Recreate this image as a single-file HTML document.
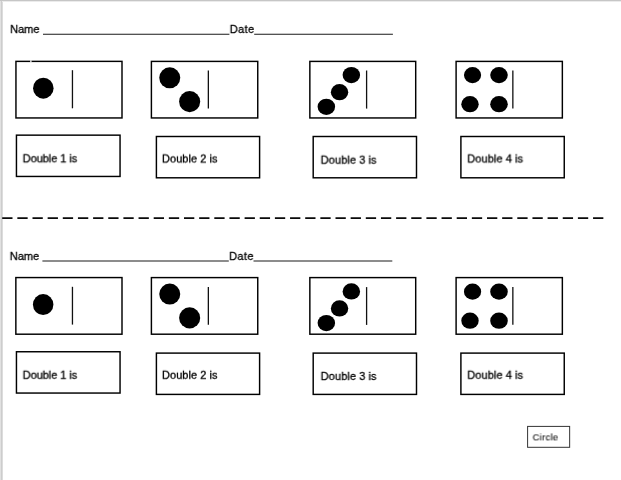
<!DOCTYPE html>
<html lang="en">
<head>
<meta charset="utf-8">
<title>Doubles worksheet</title>
<style>
  html, body { margin: 0; padding: 0; background: #ffffff; }
  body { width: 621px; height: 480px; position: relative; overflow: hidden;
         font-family: "Liberation Sans", sans-serif; color: #111; }
  .edge-l0 { position: absolute; left: 0; top: 0; width: 1px; height: 480px; background: #e1e1e1; }
  .edge-l1 { position: absolute; left: 1px; top: 0; width: 1px; height: 480px; background: #cdcdcd; }
  .edge-l2 { position: absolute; left: 2px; top: 0; width: 1px; height: 480px; background: #dcdcdc; }
  .edge-t0 { position: absolute; left: 0; top: 0; width: 621px; height: 1px; background: #c6c6c6; }
  .edge-t1 { position: absolute; left: 2px; top: 1px; width: 619px; height: 1px; background: #ebebeb; }
  svg.art { position: absolute; left: 0; top: 0; }
  .t { position: absolute; white-space: nowrap; font-size: 11px; line-height: 12px; letter-spacing: 0;
       will-change: transform; transform-origin: 0 0; -webkit-text-stroke: 0.3px #000; color: #000; }
  .c { font-size: 9.4px; line-height: 10px; -webkit-text-stroke: 0.08px #111; }
</style>
</head>
<body>
<div class="edge-l0"></div><div class="edge-l1"></div><div class="edge-l2"></div>
<div class="edge-t0"></div><div class="edge-t1"></div>

<svg class="art" width="621" height="480" viewBox="0 0 621 480">
  <!-- dashed cut line -->
  <line x1="2.2" y1="218.05" x2="604" y2="218.05" stroke="#0a0a0a" stroke-width="1.75" stroke-dasharray="10.3 4.85"/>

  <!-- name/date underlines -->
  <g stroke="#1a1a1a" stroke-width="1.15">
    <line x1="43" y1="34.2" x2="229.4" y2="34.2"/>
    <line x1="254.2" y1="34.2" x2="392.9" y2="34.2"/>
    <line x1="42.4" y1="261" x2="228.8" y2="261"/>
    <line x1="253.5" y1="261" x2="392.3" y2="261"/>
  </g>

  <!-- top half -->
  <g id="s1">
    <g fill="none" stroke="#000" stroke-width="1.45">
      <rect x="15.95" y="61.37" width="106.05" height="56.58"/>
      <rect x="151.4" y="61.4" width="106.35" height="56.55"/>
      <rect x="309.85" y="61.4" width="105.85" height="56.55"/>
      <rect x="456.1" y="61.4" width="106.25" height="56.55"/>
      <rect x="16.45" y="135.15" width="103.6" height="41.3"/>
      <rect x="156.4" y="136.5" width="103.2" height="41.3"/>
      <rect x="313.2" y="136.5" width="103.3" height="41.3"/>
      <rect x="460.9" y="136.5" width="103.35" height="41.3"/>
    </g>
    <rect x="30" y="60.3" width="1.7" height="2" fill="#fff" fill-opacity="0.75"/>
    <g stroke="#111" stroke-width="1.3">
      <line x1="72.45" y1="70.2" x2="72.45" y2="108.3"/>
      <line x1="208.35" y1="70.5" x2="208.35" y2="108.5"/>
      <line x1="366.6" y1="70.5" x2="366.6" y2="108.6"/>
      <line x1="512.85" y1="70.5" x2="512.85" y2="108.4"/>
    </g>
    <g fill="#000">
      <ellipse cx="43.3" cy="88.15" rx="10.25" ry="10.5"/>
      <circle cx="169.75" cy="77.8" r="10.5"/>
      <circle cx="189.65" cy="101.6" r="10.55"/>
      <ellipse cx="351.35" cy="75.1" rx="8.75" ry="8.15"/>
      <ellipse cx="339.55" cy="92.15" rx="8.7" ry="8.15"/>
      <ellipse cx="326.35" cy="106.8" rx="8.75" ry="8.15"/>
      <ellipse cx="472.55" cy="75.1" rx="8.6" ry="8.05"/>
      <ellipse cx="499.0" cy="75.1" rx="8.8" ry="8.05"/>
      <ellipse cx="470" cy="104.15" rx="8.7" ry="8.15"/>
      <ellipse cx="499" cy="104.15" rx="8.8" ry="8.15"/>
    </g>
  </g>

  <!-- bottom half -->
  <g id="s2">
    <g fill="none" stroke="#000" stroke-width="1.45">
      <rect x="15.85" y="277.57" width="106.15" height="56.63"/>
      <rect x="151.4" y="277.6" width="106.35" height="56.6"/>
      <rect x="309.85" y="277.6" width="105.85" height="56.6"/>
      <rect x="456.1" y="277.6" width="106.25" height="56.6"/>
      <rect x="16.45" y="351.75" width="103.6" height="41.3"/>
      <rect x="156.4" y="353.1" width="103.2" height="41.3"/>
      <rect x="313.2" y="353.1" width="103.3" height="41.3"/>
      <rect x="460.9" y="353.1" width="103.35" height="41.3"/>
    </g>
    <g stroke="#111" stroke-width="1.3">
      <line x1="72.45" y1="286.8" x2="72.45" y2="324.6"/>
      <line x1="208.35" y1="287.1" x2="208.35" y2="324.8"/>
      <line x1="366.6" y1="287.1" x2="366.6" y2="324.9"/>
      <line x1="512.85" y1="287.1" x2="512.85" y2="324.7"/>
    </g>
    <g fill="#000">
      <ellipse cx="43.15" cy="304.55" rx="10.25" ry="10.5"/>
      <circle cx="169.75" cy="294.1" r="10.5"/>
      <circle cx="189.65" cy="317.9" r="10.55"/>
      <ellipse cx="351.35" cy="291.4" rx="8.75" ry="8.15"/>
      <ellipse cx="339.55" cy="308.45" rx="8.7" ry="8.15"/>
      <ellipse cx="326.35" cy="323.1" rx="8.75" ry="8.15"/>
      <ellipse cx="472.55" cy="291.65" rx="8.6" ry="8.05"/>
      <ellipse cx="499.0" cy="291.65" rx="8.8" ry="8.05"/>
      <ellipse cx="470" cy="320.7" rx="8.7" ry="8.15"/>
      <ellipse cx="499" cy="320.7" rx="8.8" ry="8.15"/>
    </g>
  </g>

  <!-- circle word box -->
  <rect x="527.6" y="426.4" width="42.05" height="20.9" fill="none" stroke="#333" stroke-width="1"/>
</svg>

<!-- text -->
<div class="t" style="left:10px; top:23px; transform:translate(0.2px,0.0px) rotate(0.01deg);">Name</div>
<div class="t" style="left:229px; top:23px; letter-spacing:0.4px; transform:translate(0.8px,0.0px) rotate(0.01deg);">Date</div>
<div class="t" style="left:22px; top:152px; letter-spacing:-0.06px; transform:translate(0.7px,0.3px) rotate(0.01deg);">Double 1 is</div>
<div class="t" style="left:162px; top:152px; letter-spacing:0.05px; transform:translate(0.0px,0.5px) rotate(0.01deg);">Double 2 is</div>
<div class="t" style="left:320px; top:153px; letter-spacing:0.08px; transform:translate(0.7px,0.7px) rotate(0.01deg);">Double 3 is</div>
<div class="t" style="left:467px; top:152px; letter-spacing:0.08px; transform:translate(0.3px,0.5px) rotate(0.01deg);">Double 4 is</div>
<div class="t" style="left:9px; top:250px; transform:translate(0.8px,0.0px) rotate(0.01deg);">Name</div>
<div class="t" style="left:229px; top:250px; letter-spacing:0.4px; transform:translate(0.2px,0.0px) rotate(0.01deg);">Date</div>
<div class="t" style="left:22px; top:368px; letter-spacing:-0.06px; transform:translate(0.7px,0.8px) rotate(0.01deg);">Double 1 is</div>
<div class="t" style="left:162px; top:368px; letter-spacing:0.05px; transform:translate(0.0px,0.8px) rotate(0.01deg);">Double 2 is</div>
<div class="t" style="left:320px; top:370px; letter-spacing:0.08px; transform:translate(0.7px,0.0px) rotate(0.01deg);">Double 3 is</div>
<div class="t" style="left:467px; top:368px; letter-spacing:0.08px; transform:translate(0.3px,0.8px) rotate(0.01deg);">Double 4 is</div>
<div class="t c" style="left:532px; top:432px; letter-spacing:0.32px; transform:translate(0.6px,0.4px) rotate(0.01deg);">Circle</div>
</body>
</html>
